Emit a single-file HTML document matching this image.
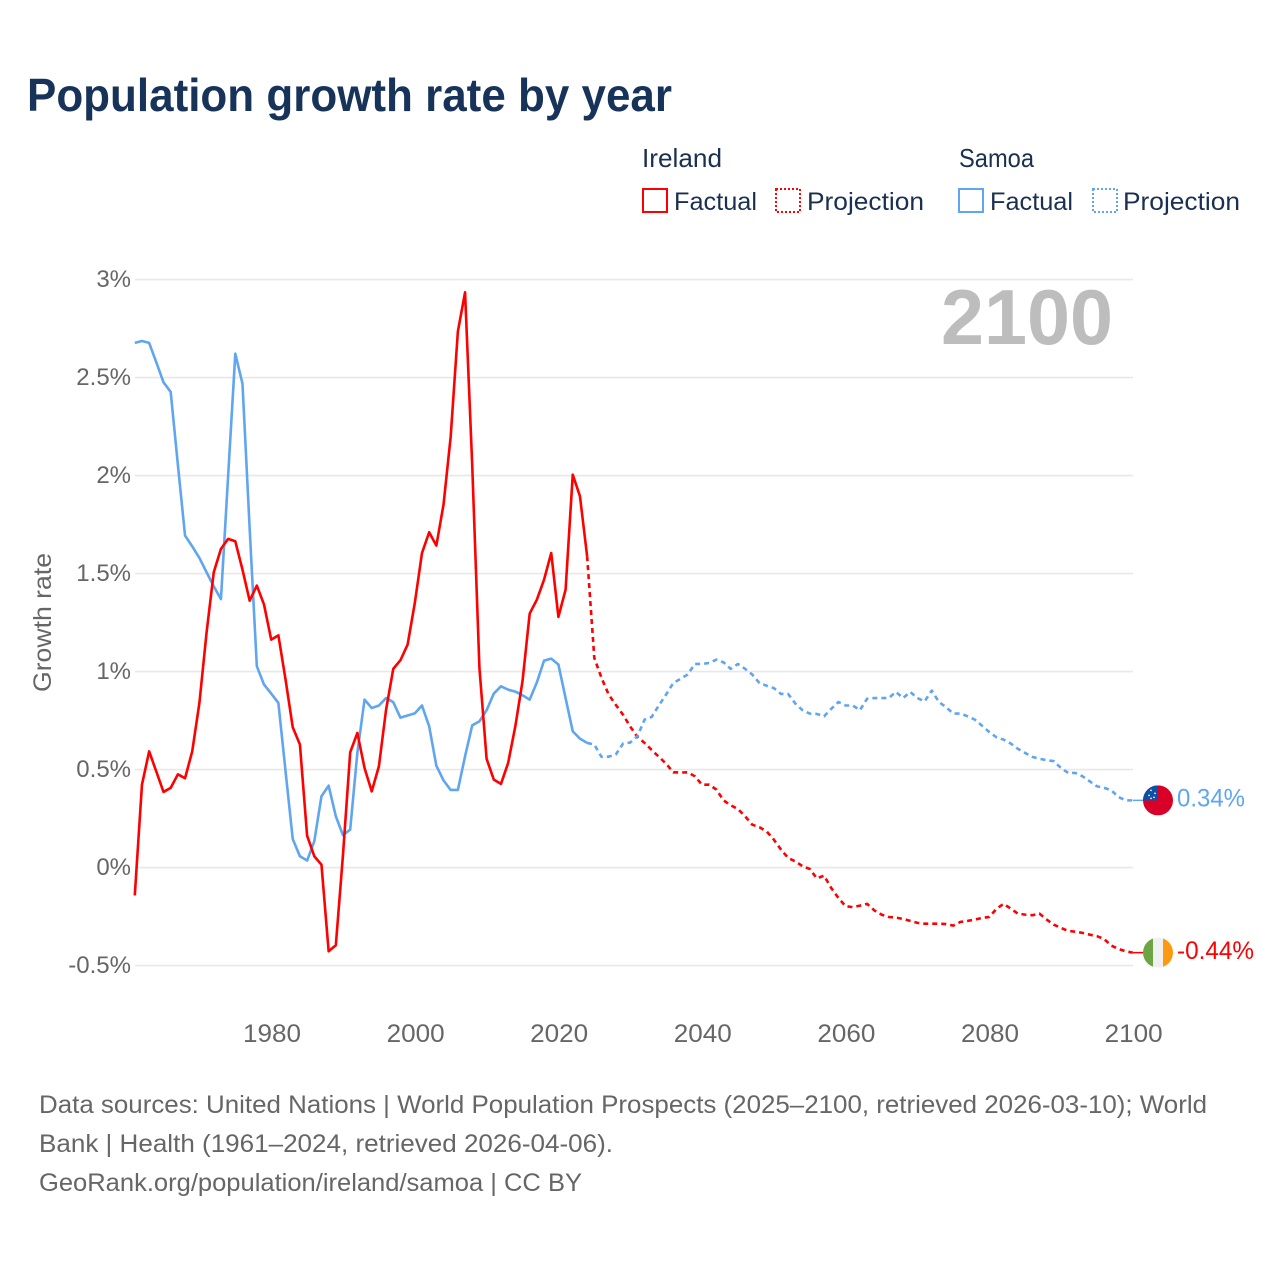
<!DOCTYPE html>
<html lang="en">
<head>
<meta charset="utf-8">
<title>Population growth rate by year</title>
<style>
html,body{margin:0;padding:0;background:#fff;}
svg{display:block;font-family:"Liberation Sans",sans-serif;}
</style>
</head>
<body>
<svg id="chart" xmlns="http://www.w3.org/2000/svg" width="1280" height="1280" viewBox="0 0 1280 1280">
  <rect x="0" y="0" width="1280" height="1280" fill="#ffffff"/>
  <text x="27" y="111" font-size="46" font-weight="700" fill="#17335a" textLength="645" lengthAdjust="spacingAndGlyphs">Population growth rate by year</text>

  <g font-size="25" fill="#1a3050">
    <text x="642" y="167" font-size="26" textLength="80" lengthAdjust="spacingAndGlyphs">Ireland</text>
    <rect x="643" y="189" width="24" height="23" fill="none" stroke="#ff0000" stroke-width="2"/>
    <text x="674" y="210" textLength="83" lengthAdjust="spacingAndGlyphs">Factual</text>
    <rect x="776" y="189" width="24" height="23" fill="none" stroke="#ff0000" stroke-width="2" stroke-dasharray="2 2"/>
    <text x="807" y="210" textLength="117" lengthAdjust="spacingAndGlyphs">Projection</text>
    <text x="959" y="167" font-size="26" textLength="75" lengthAdjust="spacingAndGlyphs">Samoa</text>
    <rect x="959" y="189" width="24" height="23" fill="none" stroke="#60a5f0" stroke-width="2"/>
    <text x="990" y="210" textLength="83" lengthAdjust="spacingAndGlyphs">Factual</text>
    <rect x="1093" y="189" width="24" height="23" fill="none" stroke="#60a5f0" stroke-width="2" stroke-dasharray="2 2"/>
    <text x="1123" y="210" textLength="117" lengthAdjust="spacingAndGlyphs">Projection</text>
  </g>

  <g id="grid"></g>
  <g id="yticks"></g>
  <g id="xticks"></g>
  <text transform="translate(51 692) rotate(-90)" font-size="25" fill="#666666" textLength="139" lengthAdjust="spacingAndGlyphs">Growth rate</text>
  <text x="941" y="344" font-size="78" font-weight="700" fill="#bdbdbd" textLength="172" lengthAdjust="spacingAndGlyphs">2100</text>

  <g id="series"></g>
  <g id="ends"></g>

  <g font-size="25" fill="#666666">
    <text x="39" y="1113" textLength="1168" lengthAdjust="spacingAndGlyphs">Data sources: United Nations | World Population Prospects (2025–2100, retrieved 2026-03-10); World</text>
    <text x="39" y="1152" textLength="574" lengthAdjust="spacingAndGlyphs">Bank | Health (1961–2024, retrieved 2026-04-06).</text>
    <text x="39" y="1191" textLength="543" lengthAdjust="spacingAndGlyphs">GeoRank.org/population/ireland/samoa | CC BY</text>
  </g>
</svg>
<script>
const factualStartYear = 1961;
const projectionStartYear = 2024;
const yTickValues = [-0.5, 0, 0.5, 1, 1.5, 2, 2.5, 3];
const yTickLabels = ["-0.5%", "0%", "0.5%", "1%", "1.5%", "2%", "2.5%", "3%"];
const xTickYears = [1980, 2000, 2020, 2040, 2060, 2080, 2100];
const irelandFactual = [-0.142,0.423,0.593,0.49,0.386,0.407,0.476,0.456,0.593,0.84,1.2,1.507,1.626,1.677,1.665,1.52,1.362,1.439,1.342,1.163,1.185,0.959,0.716,0.628,0.163,0.058,0.015,-0.427,-0.396,0.066,0.588,0.687,0.508,0.389,0.517,0.806,1.014,1.058,1.138,1.35,1.605,1.711,1.643,1.852,2.2,2.736,2.935,2.05,1.019,0.555,0.449,0.427,0.534,0.721,0.951,1.296,1.367,1.469,1.605,1.279,1.418,2.005,1.895,1.589];
const samoaFactual = [2.677,2.687,2.677,2.578,2.476,2.427,2.056,1.694,1.639,1.58,1.507,1.435,1.37,1.997,2.622,2.469,1.73,1.027,0.934,0.888,0.84,0.491,0.146,0.058,0.036,0.134,0.364,0.418,0.262,0.165,0.194,0.586,0.857,0.814,0.827,0.865,0.844,0.765,0.776,0.787,0.827,0.721,0.52,0.445,0.396,0.396,0.568,0.726,0.746,0.803,0.888,0.925,0.908,0.898,0.879,0.857,0.945,1.056,1.066,1.036,0.865,0.695,0.658,0.636];
const irelandProjection = [1.589,1.07,0.968,0.883,0.83,0.78,0.72,0.667,0.636,0.6,0.565,0.53,0.486,0.485,0.486,0.466,0.423,0.423,0.398,0.343,0.318,0.299,0.262,0.219,0.206,0.185,0.143,0.092,0.049,0.032,0.007,-0.007,-0.055,-0.041,-0.104,-0.155,-0.197,-0.202,-0.194,-0.185,-0.218,-0.24,-0.252,-0.255,-0.262,-0.272,-0.282,-0.286,-0.286,-0.286,-0.288,-0.296,-0.277,-0.272,-0.265,-0.257,-0.252,-0.211,-0.185,-0.209,-0.235,-0.24,-0.243,-0.235,-0.265,-0.291,-0.308,-0.323,-0.327,-0.333,-0.342,-0.35,-0.364,-0.398,-0.415,-0.427,-0.434];
const samoaProjection = [0.636,0.628,0.565,0.566,0.577,0.633,0.638,0.67,0.755,0.769,0.828,0.883,0.942,0.963,0.985,1.039,1.039,1.044,1.061,1.047,1.014,1.039,1.014,0.985,0.942,0.928,0.916,0.886,0.886,0.837,0.803,0.786,0.784,0.772,0.81,0.845,0.827,0.827,0.803,0.862,0.865,0.865,0.865,0.896,0.865,0.896,0.865,0.848,0.903,0.845,0.818,0.786,0.786,0.772,0.755,0.724,0.692,0.665,0.653,0.633,0.606,0.585,0.565,0.555,0.548,0.543,0.508,0.483,0.483,0.466,0.44,0.415,0.407,0.395,0.36,0.343,0.343];
const endLabels = ["0.34%", "-0.44%"];

const NS = "http://www.w3.org/2000/svg";
const IRELAND_COLOR = "#ff0000";
const SAMOA_COLOR = "#60a5f0";
function xScale(year) { return 271.2 + (year - 1980) * 7.18; }
function yScale(value) { return 867.6 - 196 * value; }
function make(tag, attrs, parent) {
  const el = document.createElementNS(NS, tag);
  for (const k in attrs) el.setAttribute(k, attrs[k]);
  parent.appendChild(el);
  return el;
}
function linePoints(values, startYear) {
  return values.map(function (v, i) {
    return xScale(startYear + i).toFixed(2) + "," + yScale(v).toFixed(2);
  }).join(" ");
}

const gridGroup = document.getElementById("grid");
const yTickGroup = document.getElementById("yticks");
yTickValues.forEach(function (v, i) {
  const gridline = make("line", {x1: 135, x2: 1133, y1: yScale(v), y2: yScale(v), stroke: "#e8e8e8", "stroke-width": 1.6}, gridGroup);
  
  
  const label = make("text", {x: 131, y: yScale(v) + 7.6, "text-anchor": "end", "font-size": 24, fill: "#666666"}, yTickGroup);
  label.textContent = yTickLabels[i];
  
  
});

const xTickGroup = document.getElementById("xticks");
xTickYears.forEach(function (year) {
  const label = make("text", {x: xScale(year) + 0.8, y: 1042, "text-anchor": "middle", "font-size": 25, fill: "#666666", textLength: 58, lengthAdjust: "spacingAndGlyphs"}, xTickGroup);
  label.textContent = String(year);
  
  
});

const seriesGroup = document.getElementById("series");
const irelandProjectionLine = make("polyline", {points: linePoints(irelandProjection, projectionStartYear), fill: "none", stroke: IRELAND_COLOR, "stroke-width": 2.6, "stroke-dasharray": "5 4", "stroke-linejoin": "round"}, seriesGroup);


const samoaProjectionLine = make("polyline", {points: linePoints(samoaProjection, projectionStartYear), fill: "none", stroke: SAMOA_COLOR, "stroke-width": 2.6, "stroke-dasharray": "5 4", "stroke-linejoin": "round"}, seriesGroup);


const samoaFactualLine = make("polyline", {points: linePoints(samoaFactual, factualStartYear), fill: "none", stroke: SAMOA_COLOR, "stroke-width": 2.6, "stroke-linejoin": "round"}, seriesGroup);


const irelandFactualLine = make("polyline", {points: linePoints(irelandFactual, factualStartYear), fill: "none", stroke: IRELAND_COLOR, "stroke-width": 2.6, "stroke-linejoin": "round"}, seriesGroup);



const endGroup = document.getElementById("ends");
const flagX = 1158;
const lastYear = projectionStartYear + samoaProjection.length - 1;
const samoaEndY = yScale(samoaProjection[samoaProjection.length - 1]);
const irelandEndY = yScale(irelandProjection[irelandProjection.length - 1]);

const samoaConnector = make("line", {x1: xScale(lastYear), x2: flagX - 15, y1: samoaEndY, y2: samoaEndY, stroke: SAMOA_COLOR, "stroke-width": 1.5}, endGroup);


const irelandConnector = make("line", {x1: xScale(lastYear), x2: flagX - 15, y1: irelandEndY, y2: irelandEndY, stroke: IRELAND_COLOR, "stroke-width": 1.5}, endGroup);



const defs = make("defs", {}, endGroup);
const samoaClip = make("clipPath", {id: "clip-samoa"}, defs);
make("circle", {cx: flagX, cy: samoaEndY, r: 15}, samoaClip);
const irelandClip = make("clipPath", {id: "clip-ireland"}, defs);
make("circle", {cx: flagX, cy: irelandEndY, r: 15}, irelandClip);

const samoaFlag = make("g", {"clip-path": "url(#clip-samoa)"}, endGroup);


make("rect", {x: flagX - 15, y: samoaEndY - 15, width: 30, height: 30, fill: "#d80027"}, samoaFlag);
make("rect", {x: flagX - 15, y: samoaEndY - 15, width: 15, height: 15, fill: "#0d50a8"}, samoaFlag);
[[-7, -10], [-3, -7], [-9, -5], [-4, -3], [-7, -2]].forEach(function (s) {
  make("circle", {cx: flagX + s[0], cy: samoaEndY + s[1], r: 0.9, fill: "#f0f0f0"}, samoaFlag);
});

const irelandFlag = make("g", {"clip-path": "url(#clip-ireland)"}, endGroup);


make("rect", {x: flagX - 15, y: irelandEndY - 15, width: 10, height: 30, fill: "#6da544"}, irelandFlag);
make("rect", {x: flagX - 5, y: irelandEndY - 15, width: 10, height: 30, fill: "#f0f0f0"}, irelandFlag);
make("rect", {x: flagX + 5, y: irelandEndY - 15, width: 10, height: 30, fill: "#ff9811"}, irelandFlag);

const samoaEndLabel = make("text", {x: 1177, y: samoaEndY + 6, "font-size": 25, fill: SAMOA_COLOR, textLength: 68, lengthAdjust: "spacingAndGlyphs"}, endGroup);
samoaEndLabel.textContent = endLabels[0];


const irelandEndLabel = make("text", {x: 1177, y: irelandEndY + 6.5, "font-size": 25, fill: IRELAND_COLOR, textLength: 77, lengthAdjust: "spacingAndGlyphs"}, endGroup);
irelandEndLabel.textContent = endLabels[1];


</script>
</body>
</html>
